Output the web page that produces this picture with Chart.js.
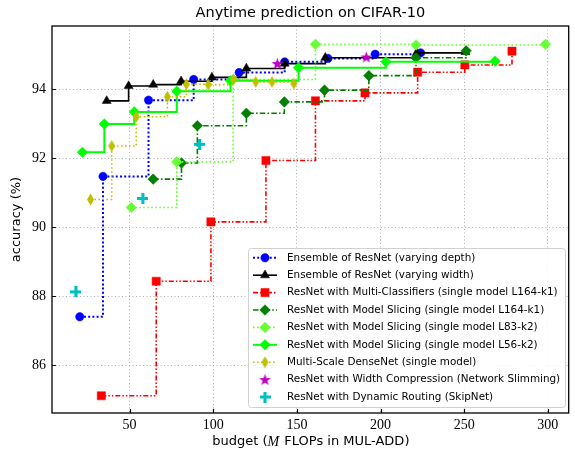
<!DOCTYPE html>
<html>
<head>
<meta charset="utf-8">
<script src="https://cdn.jsdelivr.net/npm/chart.js@4.4.1/dist/chart.umd.min.js"></script>
<style>
  html, body { margin: 0; padding: 0; background: #fff; }
  #wrap { width: 575px; height: 452px; }
</style>
</head>
<body>
<div id="wrap"><canvas id="anytime" width="575" height="452"></canvas></div>
<script>
// budget (M FLOPs) and accuracy (%) per model
const depthX = [20.2, 34.1, 61.3, 88.3, 115.5, 142.7, 168.6, 196.8, 224.0];
const depthY = [87.40, 91.47, 93.68, 94.28, 94.48, 94.79, 94.89, 95.01, 95.05];

const widthX = [36.3, 49.4, 64.1, 80.8, 99.2, 119.8, 142.7, 167.0, 221.6, 250.8];
const widthY = [93.66, 94.09, 94.13, 94.23, 94.34, 94.60, 94.74, 94.91, 95.05, 95.08];

const multiX = [33.1, 65.9, 98.6, 131.5, 161.1, 190.7, 222.2, 250.4, 278.6];
const multiY = [85.11, 88.43, 90.15, 91.93, 93.66, 93.89, 94.49, 94.70, 95.10];

const slice164X = [64.1, 81.0, 90.5, 119.8, 142.5, 166.5, 193.0, 221.2, 251.2];
const slice164Y = [91.39, 91.86, 92.94, 93.30, 93.63, 93.97, 94.39, 94.91, 95.11];

const slice83X = [51.0, 78.2, 111.9, 161.1, 221.2, 298.6];
const slice83Y = [90.57, 91.89, 94.28, 95.30, 95.28, 95.30];

const slice56X = [21.8, 34.9, 52.8, 78.2, 110.3, 151.0, 203.2, 268.5];
const slice56Y = [92.17, 92.99, 93.34, 93.94, 94.24, 94.62, 94.79, 94.81];

const msdX = [26.6, 39.3, 54.0, 72.6, 83.9, 97.0, 112.1, 125.4, 135.1, 148.2];
const msdY = [90.80, 92.35, 93.20, 93.78, 94.14, 94.13, 94.28, 94.21, 94.21, 94.16];

const slimX = [138.3, 191.5];
const slimY = [94.74, 94.93];

const skipX = [17.9, 57.9, 91.8];
const skipY = [88.12, 90.83, 92.40];

const xTicks = [50, 100, 150, 200, 250, 300];
const yTicks = [86, 88, 90, 92, 94];

const names = [
  "Ensemble of ResNet (varying depth)",
  "Ensemble of ResNet (varying width)",
  "ResNet with Multi-Classifiers (single model L164-k1)",
  "ResNet with Model Slicing (single model L164-k1)",
  "ResNet with Model Slicing (single model L83-k2)",
  "ResNet with Model Slicing (single model L56-k2)",
  "Multi-Scale DenseNet (single model)",
  "ResNet with Width Compression (Network Slimming)",
  "ResNet with Dynamic Routing (SkipNet)"
];

function pts(xs, ys) {
  return xs.map((x, i) => ({ x: x, y: ys[i] }));
}

// filled markers the library doesn't have
function markerCanvas(w, h, color, path) {
  const c = document.createElement("canvas");
  c.width = w; c.height = h;
  const g = c.getContext("2d");
  g.fillStyle = color;
  g.beginPath();
  path(g, w, h);
  g.closePath();
  g.fill();
  return c;
}

const starMark = markerCanvas(13, 13, "#bf00bf", (g, w, h) => {
  const cx = w / 2, cy = h / 2 + 0.5, ro = 6.2, ri = 2.5;
  for (let k = 0; k < 10; k++) {
    const r = k % 2 ? ri : ro;
    const a = -Math.PI / 2 + k * Math.PI / 5;
    g.lineTo(cx + r * Math.cos(a), cy + r * Math.sin(a));
  }
});

const plusMark = markerCanvas(11, 11, "#00bfbf", (g, w, h) => {
  const a = 3.2, b = 5.5, cx = w / 2, cy = h / 2;
  g.moveTo(cx - a / 2, cy - b);
  g.lineTo(cx + a / 2, cy - b);
  g.lineTo(cx + a / 2, cy - a / 2);
  g.lineTo(cx + b, cy - a / 2);
  g.lineTo(cx + b, cy + a / 2);
  g.lineTo(cx + a / 2, cy + a / 2);
  g.lineTo(cx + a / 2, cy + b);
  g.lineTo(cx - a / 2, cy + b);
  g.lineTo(cx - a / 2, cy + a / 2);
  g.lineTo(cx - b, cy + a / 2);
  g.lineTo(cx - b, cy - a / 2);
  g.lineTo(cx - a / 2, cy - a / 2);
});

const thinDiamond = markerCanvas(9, 13, "#bfbf00", (g, w, h) => {
  g.moveTo(w / 2, 0.5);
  g.lineTo(w - 1, h / 2);
  g.lineTo(w / 2, h - 0.5);
  g.lineTo(1, h / 2);
});

function series(label, xs, ys, color, dash, width, style, radius, line) {
  return {
    label: label,
    data: pts(xs, ys),
    borderColor: color,
    backgroundColor: color,
    borderWidth: width,
    borderDash: dash,
    stepped: "before",
    showLine: line,
    pointStyle: style,
    pointRadius: radius,
    pointBorderWidth: 0.5,
    pointBorderColor: color,
    pointBackgroundColor: color,
    pointHoverRadius: radius
  };
}

const datasets = [
  series(names[0], depthX, depthY, "#0000ff", [2, 2.2], 2, "circle", 4.2, true),
  series(names[1], widthX, widthY, "#000000", [], 1.6, "triangle", 5.2, true),
  series(names[2], multiX, multiY, "#ff0000", [5, 2, 1.5, 2, 1.5, 2], 1.6, "rect", 5.8, true),
  series(names[3], slice164X, slice164Y, "#007f00", [5.5, 2.2, 1.6, 2.2], 1.6, "rectRot", 5.3, true),
  series(names[4], slice83X, slice83Y, "#66ff33", [1.6, 2.4], 1.6, "rectRot", 5.3, true),
  series(names[5], slice56X, slice56Y, "#00ff00", [], 2, "rectRot", 5.3, true),
  series(names[6], msdX, msdY, "#bfbf00", [1.6, 2.4], 1.6, thinDiamond, 5, true),
  series(names[7], slimX, slimY, "#bf00bf", [], 1.5, starMark, 5, false),
  series(names[8], skipX, skipY, "#00bfbf", [], 1.5, plusMark, 5, false)
];
// later series sit on top
datasets.forEach((d, i) => { d.order = datasets.length - i; });

const sans = "'DejaVu Sans', sans-serif";
const serif = "'Liberation Serif', 'DejaVu Serif', serif";

function drawMarker(ctx, d, x, y) {
  const st = d.pointStyle;
  if (typeof st === "object") {
    ctx.drawImage(st, x - st.width / 2, y - st.height / 2);
    return;
  }
  ctx.fillStyle = d.backgroundColor;
  ctx.strokeStyle = d.borderColor;
  ctx.lineWidth = 0.5;
  ctx.setLineDash([]);
  Chart.helpers.drawPoint(ctx, { pointStyle: st, radius: d.pointRadius, rotation: 0, borderWidth: 0.5 }, x, y);
}

const decor = {
  id: "decor",
  beforeDraw(chart) {
    const ctx = chart.ctx;
    ctx.save();
    ctx.fillStyle = "#fff";
    ctx.fillRect(0, 0, chart.width, chart.height);
    ctx.restore();
  },
  afterDraw(chart) {
    const ctx = chart.ctx;
    const a = chart.chartArea;
    const xs = chart.scales.x, ys = chart.scales.y;
    ctx.save();

    // inward tick marks and frame
    ctx.strokeStyle = "#000";
    ctx.lineWidth = 1.2;
    ctx.setLineDash([]);
    ctx.beginPath();
    xTicks.forEach(v => {
      const px = Math.round(xs.getPixelForValue(v)) + 0.5;
      ctx.moveTo(px, a.bottom); ctx.lineTo(px, a.bottom - 4);
    });
    yTicks.forEach(v => {
      const py = Math.round(ys.getPixelForValue(v)) + 0.5;
      ctx.moveTo(a.left, py); ctx.lineTo(a.left + 4, py);
    });
    ctx.stroke();
    ctx.lineWidth = 1.3;
    ctx.strokeRect(a.left, a.top, a.right - a.left, a.bottom - a.top);

    // legend box
    const lx = 248, ly = 248, lw = 317, lh = 159;
    ctx.beginPath();
    ctx.roundRect(lx + 0.5, ly + 0.5, lw, lh, 3);
    ctx.fillStyle = "rgba(255,255,255,0.85)";
    ctx.fill();
    ctx.strokeStyle = "#d0d0d0";
    ctx.lineWidth = 1;
    ctx.stroke();

    ctx.font = "10.4px " + sans;
    ctx.textBaseline = "middle";
    ctx.textAlign = "left";
    datasets.forEach((d, i) => {
      const y = 257.8 + i * 17.4;
      if (d.showLine) {
        ctx.strokeStyle = d.borderColor;
        ctx.lineWidth = d.borderWidth;
        ctx.setLineDash(d.borderDash);
        ctx.beginPath();
        ctx.moveTo(253, y); ctx.lineTo(277, y);
        ctx.stroke();
      }
      drawMarker(ctx, d, 265, y);
      ctx.fillStyle = "#000";
      ctx.fillText(d.label, 287, y);
    });

    // title
    ctx.fillStyle = "#000";
    ctx.textAlign = "center";
    ctx.font = "14.5px " + sans;
    ctx.fillText("Anytime prediction on CIFAR-10", (a.left + a.right) / 2, 13);

    // x axis title with italic M
    const p1 = "budget (", p3 = " FLOPs in MUL-ADD)";
    ctx.font = "13px " + sans;
    const w1 = ctx.measureText(p1).width, w3 = ctx.measureText(p3).width;
    ctx.font = "italic 14px " + serif;
    const w2 = ctx.measureText("M").width;
    let x0 = (a.left + a.right) / 2 - (w1 + w2 + w3) / 2;
    ctx.textAlign = "left";
    ctx.font = "13px " + sans;
    ctx.fillText(p1, x0, 442);
    ctx.font = "italic 14px " + serif;
    ctx.fillText("M", x0 + w1, 442);
    ctx.font = "13px " + sans;
    ctx.fillText(p3, x0 + w1 + w2 + 1, 442);

    // y axis title
    ctx.translate(17, (a.top + a.bottom) / 2);
    ctx.rotate(-Math.PI / 2);
    ctx.textAlign = "center";
    ctx.fillText("accuracy (%)", 0, 0);
    ctx.restore();
  }
};

new Chart(document.getElementById("anytime"), {
  type: "line",
  data: { datasets: datasets },
  options: {
    responsive: false,
    animation: false,
    events: [],
    layout: { padding: { top: 26, right: 4, left: 0, bottom: 0 } },
    plugins: { legend: { display: false }, tooltip: { enabled: false } },
    scales: {
      x: {
        type: "linear",
        min: 3.6,
        max: 312.5,
        afterFit(scale) { scale.height = 39; },
        afterBuildTicks(scale) { scale.ticks = xTicks.map(v => ({ value: v })); },
        grid: { color: "#a8a8a8", lineWidth: 0.9, drawTicks: false },
        border: { display: false, dash: [1, 2.5] },
        ticks: { color: "#000", padding: 4, maxRotation: 0, font: { family: serif, size: 14 } }
      },
      y: {
        type: "linear",
        min: 84.61,
        max: 95.83,
        afterFit(scale) { scale.width = 52; },
        afterBuildTicks(scale) { scale.ticks = yTicks.map(v => ({ value: v })); },
        grid: { color: "#a8a8a8", lineWidth: 0.9, drawTicks: false },
        border: { display: false, dash: [1, 2.5] },
        ticks: { color: "#000", padding: 6, font: { family: serif, size: 14 } }
      }
    }
  },
  plugins: [decor]
});
</script>
</body>
</html>
